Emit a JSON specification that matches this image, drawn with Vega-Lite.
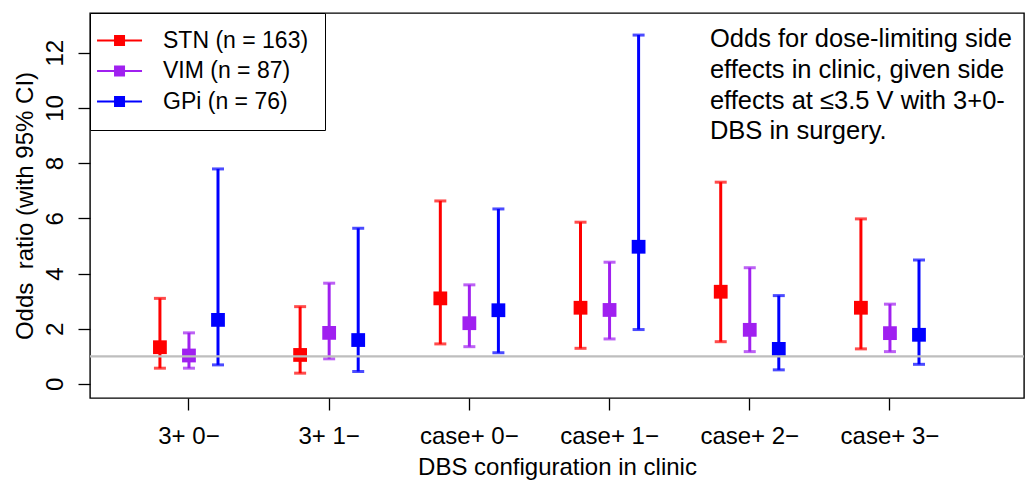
{
  "$schema": "https://vega.github.io/schema/vega-lite/v6.json",
  "width": 934,
  "height": 385,
  "autosize": {"type": "none"},
  "padding": {"left": 90, "top": 13, "right": 1, "bottom": 85},
  "background": "white",
  "config": {
    "font": "Liberation Sans",
    "view": {"stroke": "black", "strokeWidth": 1.4},
    "axis": {"domain": false, "grid": false, "tickColor": "black", "tickSize": 12, "tickWidth": 1.3,
             "labelFont": "Liberation Sans", "labelFontSize": 24, "labelColor": "black",
             "titleFont": "Liberation Sans", "titleFontSize": 24, "titleColor": "black", "titleFontWeight": "normal"}
  },
  "data": {"values": [
    {"config": "3+ 0−", "series": "STN (n = 163)", "or": 1.33, "lo": 0.57, "hi": 3.10},
    {"config": "3+ 0−", "series": "VIM (n = 87)", "or": 1.03, "lo": 0.57, "hi": 1.85},
    {"config": "3+ 0−", "series": "GPi (n = 76)", "or": 2.32, "lo": 0.69, "hi": 7.79},
    {"config": "3+ 1−", "series": "STN (n = 163)", "or": 1.05, "lo": 0.39, "hi": 2.80},
    {"config": "3+ 1−", "series": "VIM (n = 87)", "or": 1.85, "lo": 0.91, "hi": 3.65},
    {"config": "3+ 1−", "series": "GPi (n = 76)", "or": 1.59, "lo": 0.45, "hi": 5.64},
    {"config": "case+ 0−", "series": "STN (n = 163)", "or": 3.10, "lo": 1.45, "hi": 6.63},
    {"config": "case+ 0−", "series": "VIM (n = 87)", "or": 2.20, "lo": 1.35, "hi": 3.59},
    {"config": "case+ 0−", "series": "GPi (n = 76)", "or": 2.67, "lo": 1.13, "hi": 6.34},
    {"config": "case+ 1−", "series": "STN (n = 163)", "or": 2.76, "lo": 1.29, "hi": 5.86},
    {"config": "case+ 1−", "series": "VIM (n = 87)", "or": 2.68, "lo": 1.63, "hi": 4.41},
    {"config": "case+ 1−", "series": "GPi (n = 76)", "or": 4.97, "lo": 1.97, "hi": 12.64},
    {"config": "case+ 2−", "series": "STN (n = 163)", "or": 3.34, "lo": 1.53, "hi": 7.31},
    {"config": "case+ 2−", "series": "VIM (n = 87)", "or": 1.96, "lo": 1.17, "hi": 4.21},
    {"config": "case+ 2−", "series": "GPi (n = 76)", "or": 1.27, "lo": 0.51, "hi": 3.20},
    {"config": "case+ 3−", "series": "STN (n = 163)", "or": 2.76, "lo": 1.27, "hi": 5.98},
    {"config": "case+ 3−", "series": "VIM (n = 87)", "or": 1.84, "lo": 1.17, "hi": 2.89},
    {"config": "case+ 3−", "series": "GPi (n = 76)", "or": 1.78, "lo": 0.71, "hi": 4.49}
  ]},
  "encoding": {
    "x": {"field": "config", "type": "nominal", "sort": null,
          "scale": {"paddingInner": 0, "paddingOuter": 0.331, "align": 0.311},
          "axis": {"title": "DBS configuration in clinic", "labelAngle": 0, "labelBaseline": "alphabetic", "labelPadding": 33, "titlePadding": 7}},
    "xOffset": {"field": "series", "type": "nominal",
                "scale": {"domain": ["STN (n = 163)", "VIM (n = 87)", "GPi (n = 76)"], "paddingInner": 0, "paddingOuter": 0.914}},
    "color": {"field": "series", "type": "nominal",
              "scale": {"domain": ["STN (n = 163)", "VIM (n = 87)", "GPi (n = 76)"], "range": ["#FF0000", "#A020F0", "#0000FF"]},
              "legend": {"orient": "top-left", "offset": 0, "title": null, "strokeColor": "black", "fillColor": "white",
                         "padding": 16, "symbolType": "M-3.72,-0.18H4.46V0.18H-3.72Z M-0.63,-1H1.37V1H-0.63Z",
                         "symbolSize": 121, "symbolStrokeWidth": 0, "symbolOpacity": 1,
                         "labelFont": "Liberation Sans", "labelFontSize": 23, "labelColor": "black",
                         "labelOffset": 34, "rowPadding": 6.5}}
  },
  "layer": [
    {"mark": {"type": "rule", "strokeWidth": 3},
     "encoding": {"y": {"field": "lo", "type": "quantitative",
                        "scale": {"domain": [-0.51, 13.44], "nice": false, "zero": false},
                        "axis": {"title": "Odds\u00a0 ratio (with 95% CI)", "values": [0, 2, 4, 6, 8, 10, 12],
                                 "labelAngle": 270, "labelAlign": "center", "labelBaseline": "alphabetic",
                                 "labelPadding": 16, "titlePadding": 6}},
                  "y2": {"field": "hi"}}},
    {"mark": {"type": "tick", "orient": "horizontal", "size": 12, "thickness": 3},
     "encoding": {"y": {"field": "lo", "type": "quantitative"}}},
    {"mark": {"type": "tick", "orient": "horizontal", "size": 12, "thickness": 3},
     "encoding": {"y": {"field": "hi", "type": "quantitative"}}},
    {"mark": {"type": "point", "shape": "square", "filled": true, "size": 190, "opacity": 1, "strokeWidth": 0},
     "encoding": {"y": {"field": "or", "type": "quantitative"}}},
    {"data": {"values": [{"ref": 1}]},
     "mark": {"type": "rule", "color": "#BEBEBE", "strokeWidth": 2.2},
     "encoding": {"y": {"field": "ref", "type": "quantitative"}, "x": null, "xOffset": null, "color": null}},
    {"data": {"values": [{"note": "Odds for dose-limiting side\neffects in clinic, given side\neffects at ≤3.5 V with 3+0-\nDBS in surgery.", "cfg": "case+ 2−", "ypos": 12.2}]},
     "mark": {"type": "text", "align": "left", "baseline": "alphabetic", "fontSize": 25.5, "lineHeight": 30.7,
              "font": "Liberation Sans", "color": "black", "lineBreak": "\n"},
     "encoding": {"text": {"field": "note", "type": "nominal"},
                  "x": {"field": "cfg", "type": "nominal", "bandPosition": 0.216},
                  "y": {"field": "ypos", "type": "quantitative"}, "xOffset": null, "color": null}}
  ]
}
